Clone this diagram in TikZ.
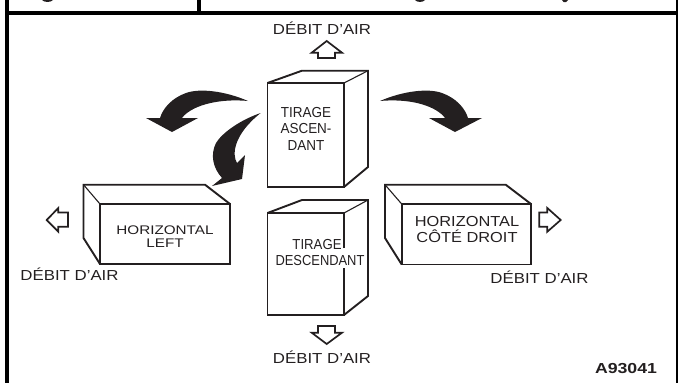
\documentclass[tikz,border=0pt]{standalone}
\usepackage{fontspec}
\setmainfont{Liberation Sans}
\newcommand{\sx}[2]{\scalebox{#1}[1]{#2}}
\tikzset{
  rule/.style={line width=3.7pt,black},
  thinrule/.style={line width=1.5pt,black},
  boxline/.style={line width=1.9pt,draw=ink,line join=miter},
  boxfine/.style={line width=1.1pt,draw=ink},
  hollow/.style={line width=1.7pt,draw=ink,fill=white,line join=miter},
  swoosh/.style={fill=ink,draw=none},
  lbl/.style={inner sep=0pt,text=ink,font=\fontsize{14.5}{16.5}\selectfont,align=center},
}
\definecolor{ink}{HTML}{231F20}
\begin{document}
\begin{tikzpicture}[x=1pt,y=-1pt]
\useasboundingbox (0,0) rectangle (678,383);
% frame
\draw[rule] (7,0) -- (7,383);
\draw[rule] (5.2,13) -- (678,13);
\draw[rule] (199.3,0) -- (199.3,13);
\draw[thinrule] (677,0) -- (677,383);
% clipped header glyph remains
\fill[ink] (42,0) .. controls (44,2.6) and (51,2.6) .. (53,0) -- cycle;
\fill[ink] (415,0) .. controls (417,2.6) and (423,2.6) .. (425,0) -- cycle;
\fill[ink] (562,0) -- (563.5,2) -- (566,2) -- (568,0) -- cycle;
% upper box
\draw[boxline] (267.5,83) rectangle (344,187);
\draw[boxline] (267.5,83) -- (302,70.7) -- (368,70.7) -- (368,167) -- (344,187);
\draw[boxfine] (344,83) -- (368,70.7);
% lower box
\draw[boxline] (344,248) -- (344,213) -- (267.5,213) -- (267.5,315) -- (344,315) -- (344,268);
\draw[boxline] (267.5,213) -- (302,200) -- (368,200) -- (368,296) -- (344,315);
\draw[boxfine] (344,213) -- (368,200);
% left box
\draw[boxline] (100,204) rectangle (230,264);
\draw[boxline] (100,264) -- (83.5,238) -- (83.5,184.7) -- (205,184.7) -- (230,204);
\draw[boxfine] (83.5,184.7) -- (100,204);
% right box
\draw[boxline] (401.7,204) rectangle (531,264.5);
\draw[boxline] (401.7,264.5) -- (385,238) -- (385,184.7) -- (505.7,184.7) -- (531,204);
\draw[boxfine] (385,184.7) -- (401.7,204);
% hollow arrows
\draw[hollow] (326.7,41) -- (342,52.7) -- (335,52.7) -- (335,58) -- (318,58) -- (318,52.7) -- (311.7,52.7) -- cycle;
\draw[hollow] (326.7,344) -- (342,332.7) -- (335,332.7) -- (335,326) -- (318,326) -- (318,332.7) -- (311.7,332.7) -- cycle;
\draw[hollow] (46.7,220) -- (58.3,208) -- (58.3,212.5) -- (68,212.5) -- (68,226.7) -- (58.3,226.7) -- (58.3,231.7) -- cycle;
\draw[hollow] (560.7,220) -- (547.3,208) -- (547.3,212.5) -- (539.3,212.5) -- (539.3,226.7) -- (547.3,226.7) -- (547.3,231.7) -- cycle;
% curved black arrows
\fill[swoosh] (248,101) .. controls (225,91) and (200,88) .. (186,93)
  .. controls (172,98) and (163,108) .. (160,118) -- (146,118) -- (172,132) -- (198,118) -- (182,118)
  .. controls (190,107) and (215,98) .. cycle;
\fill[swoosh] (380,101) .. controls (403,91) and (428,88) .. (442,93)
  .. controls (456,98) and (465,108) .. (468,118) -- (482,118) -- (455,132) -- (429,118) -- (445,118)
  .. controls (437,107) and (413,98) .. cycle;
\fill[swoosh] (260.7,113) .. controls (240,120) and (222,133) .. (216,143)
  .. controls (210,155) and (213,168) .. (222,178) -- (212,186) -- (242,179) -- (245,155) -- (237,163)
  .. controls (232,155) and (233,135) .. cycle;
% labels
\node[lbl] (airtop) at (322,28) {\sx{1.16}{DÉBIT D'AIR}};
\node[lbl] (airleft) at (69.5,274) {\sx{1.16}{DÉBIT D'AIR}};
\node[lbl] (airright) at (539.5,277) {\sx{1.16}{DÉBIT D'AIR}};
\node[lbl] (airbottom) at (322,357) {\sx{1.16}{DÉBIT D'AIR}};
\node[lbl] (asc) at (306,128.5) {\sx{0.93}{TIRAGE}\\\sx{0.93}{ASCEN-}\\\sx{0.93}{DANT}};
\node[lbl] (desc1) at (317,245) {\sx{0.91}{TIRAGE}};
\node[lbl] (desc2) at (320,261) {\sx{0.89}{DESCENDANT}};
\node[lbl,font=\fontsize{12.5}{12.7}\selectfont] (hleft) at (165,236.3) {\sx{1.22}{HORIZONTAL}\\\sx{1.22}{LEFT}};
\node[lbl,font=\fontsize{14.5}{16}\selectfont] (hright) at (467,230) {\sx{1.13}{HORIZONTAL}\\\sx{1.13}{CÔTÉ DROIT}};
\node[lbl,font=\fontsize{14.5}{16}\selectfont\bfseries] (ref) at (626,369) {\sx{1.22}{A93041}};
\end{tikzpicture}
\end{document}
